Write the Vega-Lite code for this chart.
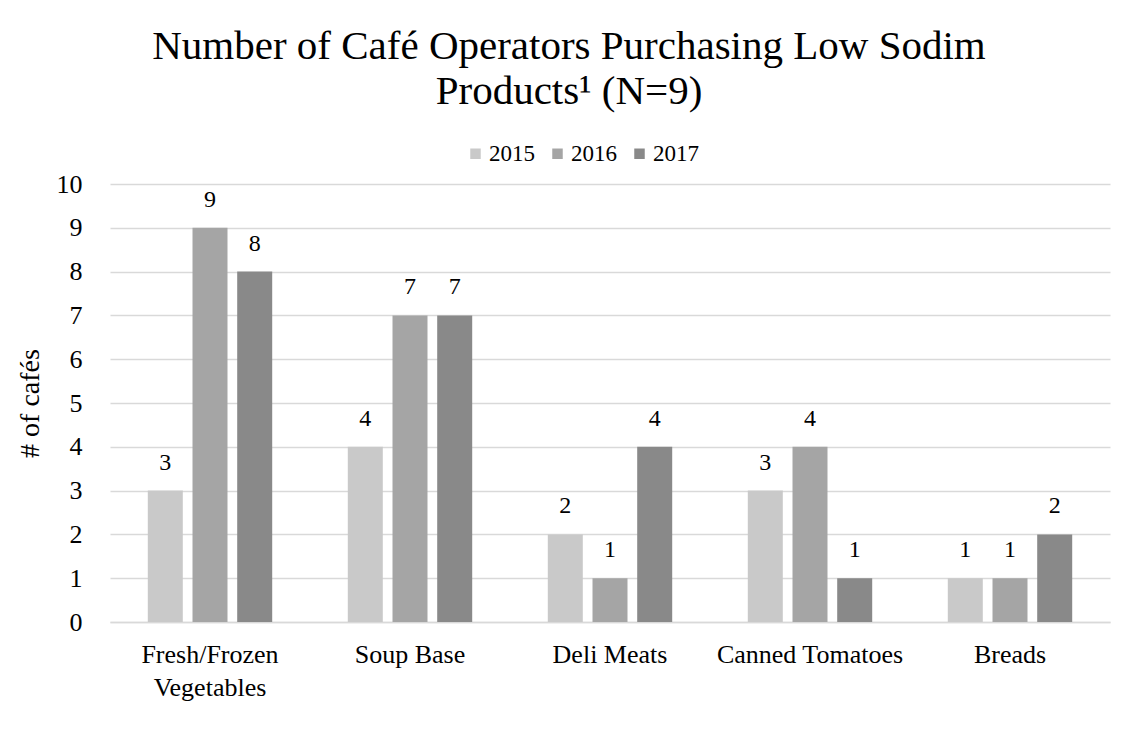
{
  "$schema": "https://vega.github.io/schema/vega-lite/v6.json",
  "autosize": "none",
  "width": 1000,
  "height": 438,
  "padding": {"left": 110, "top": 184, "right": 32, "bottom": 127},
  "background": "white",
  "title": {
    "text": ["Number of Café Operators Purchasing Low Sodim", "Products¹ (N=9)"],
    "font": "Liberation Serif",
    "fontSize": 41,
    "fontWeight": "normal",
    "color": "#000000",
    "anchor": "middle",
    "frame": "group",
    "dx": -41,
    "lineHeight": 45,
    "offset": 29
  },
  "data": {
    "values": [
      {"product": "Fresh/Frozen Vegetables", "year": "2015", "count": 3},
      {"product": "Fresh/Frozen Vegetables", "year": "2016", "count": 9},
      {"product": "Fresh/Frozen Vegetables", "year": "2017", "count": 8},
      {"product": "Soup Base", "year": "2015", "count": 4},
      {"product": "Soup Base", "year": "2016", "count": 7},
      {"product": "Soup Base", "year": "2017", "count": 7},
      {"product": "Deli Meats", "year": "2015", "count": 2},
      {"product": "Deli Meats", "year": "2016", "count": 1},
      {"product": "Deli Meats", "year": "2017", "count": 4},
      {"product": "Canned Tomatoes", "year": "2015", "count": 3},
      {"product": "Canned Tomatoes", "year": "2016", "count": 4},
      {"product": "Canned Tomatoes", "year": "2017", "count": 1},
      {"product": "Breads", "year": "2015", "count": 1},
      {"product": "Breads", "year": "2016", "count": 1},
      {"product": "Breads", "year": "2017", "count": 2}
    ]
  },
  "encoding": {
    "x": {
      "field": "product",
      "type": "nominal",
      "sort": null,
      "scale": {"paddingInner": 0.378, "paddingOuter": 0.189},
      "axis": {
        "title": null,
        "labelAngle": 0,
        "labelFont": "Liberation Serif",
        "labelFontSize": 26,
        "labelColor": "#000000",
        "labelPadding": 19,
        "labelLineHeight": 33,
        "labelBaseline": "top",
        "labelLimit": 300,
        "ticks": false,
        "domainColor": "#d9d9d9",
        "domainWidth": 1.5,
        "labelExpr": "datum.value == 'Fresh/Frozen Vegetables' ? ['Fresh/Frozen', 'Vegetables'] : datum.value"
      }
    },
    "xOffset": {
      "field": "year",
      "type": "nominal",
      "scale": {"paddingInner": 0.217, "paddingOuter": 0}
    },
    "y": {
      "field": "count",
      "type": "quantitative",
      "scale": {"domain": [0, 10], "nice": false},
      "axis": {
        "title": "# of cafés",
        "titleFont": "Liberation Serif",
        "titleFontSize": 28,
        "titleFontWeight": "normal",
        "titleColor": "#000000",
        "titlePadding": 12,
        "values": [0, 1, 2, 3, 4, 5, 6, 7, 8, 9, 10],
        "labelFont": "Liberation Serif",
        "labelFontSize": 26,
        "labelColor": "#000000",
        "labelPadding": 28,
        "ticks": false,
        "domain": false,
        "grid": true,
        "gridColor": "#d9d9d9",
        "gridWidth": 1.5
      }
    }
  },
  "layer": [
    {
      "mark": {"type": "bar"},
      "encoding": {
        "color": {
          "field": "year",
          "type": "nominal",
          "scale": {"domain": ["2015", "2016", "2017"], "range": ["#c9c9c9", "#a5a5a5", "#898989"]},
          "legend": {
            "title": null,
            "orient": "none",
            "direction": "horizontal",
            "legendX": 354,
            "legendY": -42,
            "padding": 0,
            "symbolType": "square",
            "symbolSize": 110,
            "symbolStrokeWidth": 0,
            "labelFont": "Liberation Serif",
            "labelFontSize": 23,
            "labelColor": "#000000",
            "labelOffset": 2,
            "columnPadding": 11
          }
        }
      }
    },
    {
      "mark": {
        "type": "text",
        "baseline": "middle",
        "dy": -28,
        "font": "Liberation Serif",
        "fontSize": 24,
        "color": "#000000"
      },
      "encoding": {
        "text": {"field": "count", "type": "quantitative"}
      }
    }
  ],
  "config": {
    "font": "Liberation Serif",
    "view": {"stroke": null},
    "text": {"font": "Liberation Serif"},
    "legend": {"labelFont": "Liberation Serif"},
    "axis": {"labelFont": "Liberation Serif", "titleFont": "Liberation Serif"}
  }
}
